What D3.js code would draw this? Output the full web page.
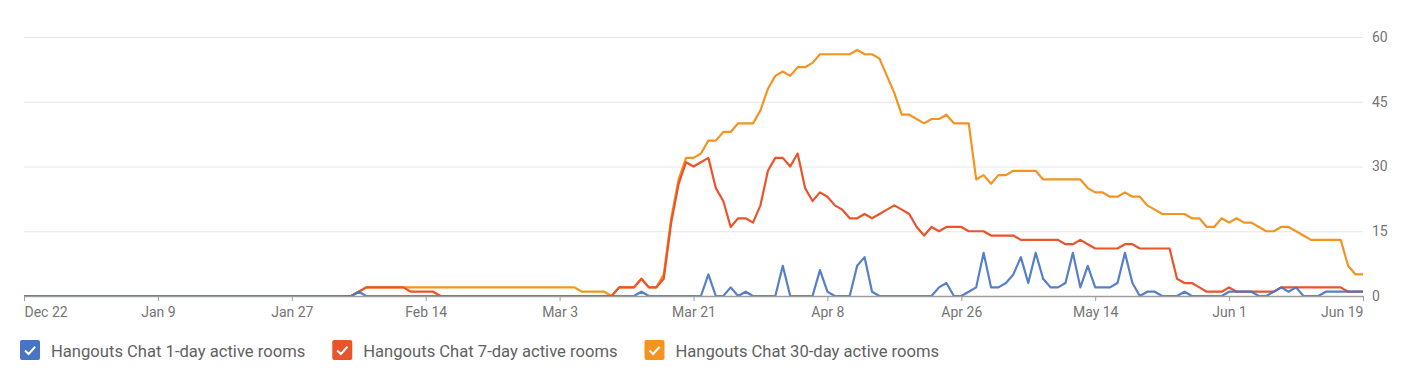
<!DOCTYPE html>
<html>
<head>
<meta charset="utf-8">
<script src="https://cdn.jsdelivr.net/npm/d3@7"></script>
<style>
  body { margin: 0; background: #fff; font-family: Roboto, "Noto Sans", sans-serif; }
  .axis text { fill: #757575; font-size: 14px; font-family: Roboto, sans-serif; }
  .legend text { fill: #616161; font-size: 16.6px; font-family: Roboto, sans-serif; }
</style>
</head>
<body>
<svg id="chart" width="1415" height="387"></svg>
<script>
// daily values, first point is Dec 22 2019
var startDay = "2019-12-22";
var xTickLabels = ["2019-12-22", "2020-01-09", "2020-01-27", "2020-02-14", "2020-03-03", "2020-03-21",
  "2020-04-08", "2020-04-26", "2020-05-14", "2020-06-01", "2020-06-19"];
var yTickValues = [0, 15, 30, 45, 60];

var seriesNames = ["Hangouts Chat 1-day active rooms", "Hangouts Chat 7-day active rooms", "Hangouts Chat 30-day active rooms"];
var seriesColors = ["#4774c4", "#e9542b", "#f39421"];

var oneDay = [
  0,0,0,0,0,0,0,0,0,0,
  0,0,0,0,0,0,0,0,0,0,
  0,0,0,0,0,0,0,0,0,0,
  0,0,0,0,0,0,0,0,0,0,
  0,0,0,0,0,1,0,0,0,0,
  0,0,0,0,0,0,0,0,0,0,
  0,0,0,0,0,0,0,0,0,0,
  0,0,0,0,0,0,0,0,0,0,
  0,0,0,1,0,0,0,0,0,0,
  0,0,5,0,0,2,0,1,0,0,
  0,0,7,0,0,0,0,6,1,0,
  0,0,7,9,1,0,0,0,0,0,
  0,0,0,2,3,0,0,1,2,10,
  2,2,3,5,9,3,10,4,2,2,
  3,10,2,7,2,2,2,3,10,3,
  0,1,1,0,0,0,1,0,0,0,
  0,0,1,1,1,1,0,0,1,2,
  1,2,0,0,0,1,1,1,1,1,
  1
];

var sevenDay = [
  0,0,0,0,0,0,0,0,0,0,
  0,0,0,0,0,0,0,0,0,0,
  0,0,0,0,0,0,0,0,0,0,
  0,0,0,0,0,0,0,0,0,0,
  0,0,0,0,0,1,2,2,2,2,
  2,2,1,1,1,1,0,0,0,0,
  0,0,0,0,0,0,0,0,0,0,
  0,0,0,0,0,0,0,0,0,0,
  2,2,2,4,2,2,4,17,26,31,
  30,31,32,25,22,16,18,18,17,21,
  29,32,32,30,33,25,22,24,23,21,
  20,18,18,19,18,19,20,21,20,19,
  16,14,16,15,16,16,16,15,15,15,
  14,14,14,14,13,13,13,13,13,13,
  12,12,13,12,11,11,11,11,12,12,
  11,11,11,11,11,4,3,3,2,1,
  1,1,2,1,1,1,1,1,1,2,
  2,2,2,2,2,2,2,2,1,1,
  1
];

var thirtyDay = [
  0,0,0,0,0,0,0,0,0,0,
  0,0,0,0,0,0,0,0,0,0,
  0,0,0,0,0,0,0,0,0,0,
  0,0,0,0,0,0,0,0,0,0,
  0,0,0,0,0,1,2,2,2,2,
  2,2,2,2,2,2,2,2,2,2,
  2,2,2,2,2,2,2,2,2,2,
  2,2,2,2,2,1,1,1,1,0,
  2,2,2,4,2,2,5,18,27,32,
  32,33,36,36,38,38,40,40,40,43,
  48,51,52,51,53,53,54,56,56,56,
  56,56,57,56,56,55,51,47,42,42,
  41,40,41,41,42,40,40,40,27,28,
  26,28,28,29,29,29,29,27,27,27,
  27,27,27,25,24,24,23,23,24,23,
  23,21,20,19,19,19,19,18,18,16,
  16,18,17,18,17,17,16,15,15,16,
  16,15,14,13,13,13,13,13,7,5,
  5
];

var margin = { top: 37, right: 52, bottom: 91, left: 24 };
var w = 1415 - margin.left - margin.right;
var h = 387 - margin.top - margin.bottom;

var parseDay = d3.utcParse("%Y-%m-%d");
var fmt = d3.utcFormat("%b %-d");
var day0 = parseDay(startDay);
var dates = oneDay.map(function (d, i) { return d3.utcDay.offset(day0, i); });
var tickDates = xTickLabels.map(parseDay);

var xScale = d3.scaleUtc().domain([dates[0], dates[dates.length - 1]]).range([0, w]);
var yScale = d3.scaleLinear().domain([0, 60]).range([h, 0]);

var svg = d3.select("#chart");
var g = svg.append("g").attr("transform", "translate(" + margin.left + "," + margin.top + ")");

// gridlines
g.append("g").selectAll("line").data(yTickValues.filter(function (v) { return v > 0; })).enter()
  .append("line")
  .attr("x1", 0).attr("x2", w)
  .attr("y1", function (d) { return yScale(d) + 0.5; })
  .attr("y2", function (d) { return yScale(d) + 0.5; })
  .attr("stroke", "#e6e6e6").attr("stroke-width", 1);

// right axis labels
var rightAxis = d3.axisRight(yScale).tickValues(yTickValues).tickSize(0).tickPadding(9);
var ry = g.append("g").attr("class", "axis").attr("transform", "translate(" + w + ",0)").call(rightAxis);
ry.select(".domain").remove();

// series lines
var line = d3.line()
  .x(function (d, i) { return xScale(dates[i]); })
  .y(function (d) { return yScale(d); });

var allSeries = [oneDay, sevenDay, thirtyDay];
[2, 1, 0].forEach(function (k) {
  g.append("path")
    .datum(allSeries[k])
    .attr("d", line)
    .attr("fill", "none")
    .attr("stroke", seriesColors[k])
    .attr("stroke-width", 2.2)
    .attr("stroke-linejoin", "round")
    .attr("stroke-opacity", k === 0 ? 0.92 : 1);
});

// bottom axis
var bottomAxis = d3.axisBottom(xScale).tickValues(tickDates).tickFormat(fmt).tickSize(5).tickSizeOuter(0).tickPadding(6);
var bx = g.append("g").attr("class", "axis").attr("transform", "translate(0," + h + ")").call(bottomAxis);
bx.select(".domain").attr("stroke", "#9e9e9e").attr("stroke-width", 1.5);
bx.selectAll(".tick line").attr("stroke", "#9e9e9e");
bx.selectAll(".tick text").attr("text-anchor", function (d, i) {
  if (i === 0) return "start";
  if (i === tickDates.length - 1) return "end";
  return "middle";
});

// legend
var legend = svg.append("g").attr("class", "legend");
var lx = 20;
seriesNames.forEach(function (name, k) {
  var item = legend.append("g").attr("transform", "translate(" + lx + ",340)");
  item.append("rect").attr("width", 20).attr("height", 20).attr("rx", 2).attr("fill", seriesColors[k]);
  item.append("path").attr("d", "M5,10.5 L8.6,14 L15.2,6.8").attr("fill", "none")
    .attr("stroke", "#fff").attr("stroke-width", 2);
  var t = item.append("text").attr("x", 31).attr("y", 17).text(name);
  lx += 31 + t.node().getComputedTextLength() + 27;
});
</script>
</body>
</html>
